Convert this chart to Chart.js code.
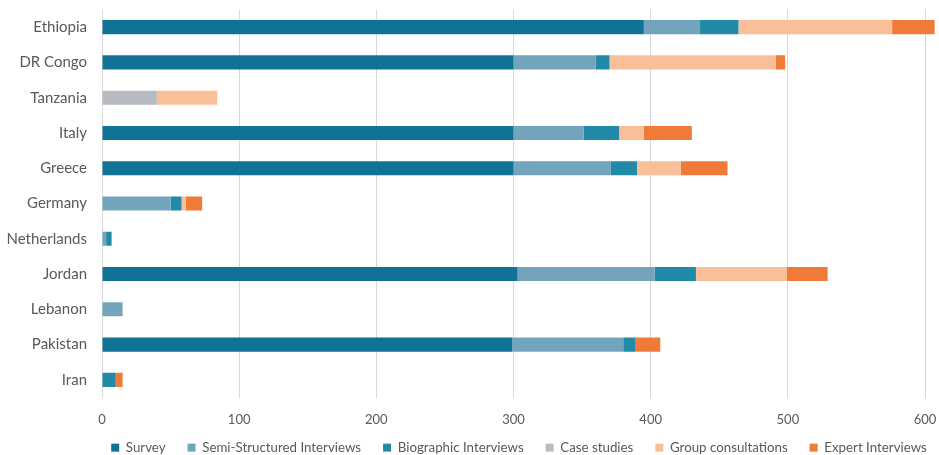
<!DOCTYPE html>
<html>
<head>
<meta charset="utf-8">
<script src="https://cdn.jsdelivr.net/npm/chart.js@4.4.1/dist/chart.umd.min.js"></script>
<style>
html,body{margin:0;padding:0;background:#fff;}
#wrap{width:939px;height:455px;position:relative;}
</style>
</head>
<body>
<div id="wrap"><canvas id="c" width="939" height="455"></canvas></div>
<script>
const countries = ["Ethiopia","DR Congo","Tanzania","Italy","Greece","Germany","Netherlands","Jordan","Lebanon","Pakistan","Iran"];
const survey        = [395, 300, 0, 300, 300, 0, 0, 303, 0, 299, 0];
const semiStructured= [41, 60, 0, 51, 71, 50, 3, 100, 15, 81, 0];
const biographic    = [28, 10, 0, 26, 19, 8, 4, 30, 0, 9, 10];
const caseStudies   = [0, 0, 40, 0, 0, 0, 0, 0, 0, 0, 0];
const groupConsult  = [112, 121, 44, 18, 32, 3, 0, 66, 0, 0, 0];
const expert        = [31, 7, 0, 35, 34, 12, 0, 30, 0, 18, 5];
const xTicks = [0, 100, 200, 300, 400, 500, 600];

const font = "Lato, 'Open Sans', 'Noto Sans', sans-serif";
Chart.defaults.font.family = font;
Chart.defaults.color = '#595959';

// center the legend under the plot area (as in the reference) instead of the canvas
const centerLegendOnPlot = {
  id: 'centerLegendOnPlot',
  afterLayout(chart) {
    const lg = chart.legend, ca = chart.chartArea;
    if (!lg) return;
    const shift = (ca.left + ca.right) / 2 - (lg.left + lg.right) / 2;
    lg.left += shift; lg.right += shift;
  }
};

new Chart(document.getElementById('c'), {
  type: 'bar',
  data: {
    labels: countries,
    datasets: [
      {label:'Survey', data: survey, backgroundColor:'#107396'},
      {label:'Semi-Structured Interviews', data: semiStructured, backgroundColor:'#72a4bb'},
      {label:'Biographic Interviews', data: biographic, backgroundColor:'#218aa8'},
      {label:'Case studies', data: caseStudies, backgroundColor:'#b8bcc1'},
      {label:'Group consultations', data: groupConsult, backgroundColor:'#f9bf99'},
      {label:'Expert Interviews', data: expert, backgroundColor:'#f07a38'}
    ]
  },
  plugins: [centerLegendOnPlot],
  options: {
    indexAxis: 'y',
    responsive: false,
    animation: false,
    devicePixelRatio: 1,
    layout: {padding: {left: 0, right: 3, top: 9.5, bottom: 0}},
    datasets: {bar: {categoryPercentage: 1, barPercentage: 0.4, borderWidth: 0}},
    scales: {
      x: {
        stacked: true,
        min: 0,
        max: 608,
        afterBuildTicks: (s) => { s.ticks = xTicks.map(v => ({value: v})); },
        afterFit: (s) => {
          s.height = 21.5; s.paddingLeft = 0; s.paddingRight = 0;
          s._computeLabelArea = () => undefined;
        },
        grid: {color: '#d9d9d9', lineWidth: 1, drawTicks: false},
        border: {display: false},
        ticks: {padding: 15, font: {size: 13}, color: '#595959'}
      },
      y: {
        stacked: true,
        afterFit: (s) => { s.width = 102; s.paddingTop = 0; s.paddingBottom = 0; },
        grid: {display: false, drawTicks: false},
        border: {display: false},
        ticks: {padding: 15, font: {size: 15}, color: '#595959'}
      }
    },
    plugins: {
      legend: {
        position: 'bottom',
        maxHeight: 36,
        labels: {boxWidth: 8, boxHeight: 8, padding: 22, font: {size: 13.3}, color: '#595959'}
      },
      tooltip: {enabled: false}
    }
  }
});
</script>
</body>
</html>
